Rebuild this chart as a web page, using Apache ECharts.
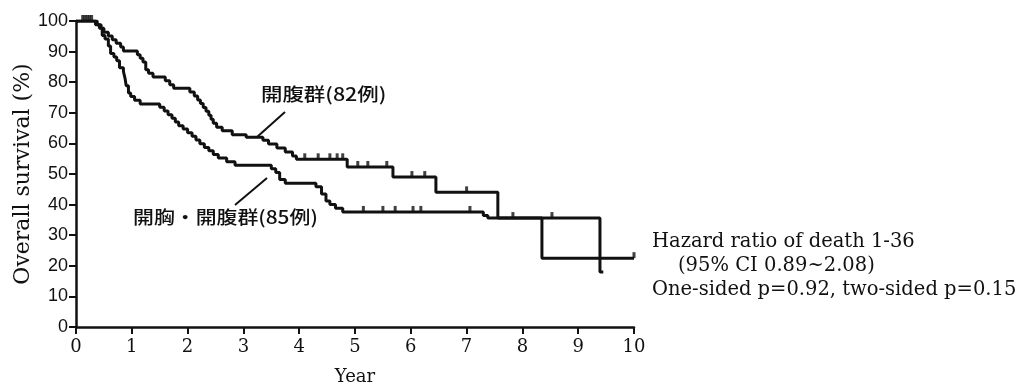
<!DOCTYPE html>
<html>
<head>
<meta charset="utf-8">
<script src="https://cdn.jsdelivr.net/npm/echarts@6/dist/echarts.min.js"></script>
<style>
  html, body { margin: 0; padding: 0; background: #fff; }
  #chart { width: 1026px; height: 388px; }
</style>
</head>
<body>
<div id="chart"></div>
<script>
// Kaplan-Meier survival: step points [year, survival %] where survival drops
const abdominalSteps = [
  [0, 100], [0.38, 98.8], [0.45, 97.6], [0.5, 96.3], [0.58, 95.1], [0.65, 93.9],
  [0.72, 92.7], [0.8, 91.5], [0.85, 90.2], [1.1, 89], [1.15, 87.8], [1.2, 86.6],
  [1.25, 84.1], [1.3, 82.9], [1.38, 81.7], [1.6, 80.5], [1.68, 79.2], [1.75, 78],
  [2.04, 76.8], [2.12, 75.5], [2.18, 74.2], [2.23, 73], [2.28, 71.7], [2.33, 70.5],
  [2.38, 69.2], [2.42, 67.9], [2.46, 66.6], [2.52, 65.3], [2.62, 64.1], [2.8, 62.8],
  [3.05, 62], [3.35, 61], [3.45, 59.8], [3.6, 58.5], [3.75, 57.2], [3.88, 55.9],
  [3.95, 54.8], [4.86, 52.3], [5.68, 49], [6.45, 44], [7.56, 35.6], [9.39, 18],
  [9.45, 18]
];
const thoracoabdominalSteps = [
  [0, 100], [0.35, 98.8], [0.42, 97.6], [0.47, 95.3], [0.52, 94.1], [0.58, 91.8],
  [0.62, 89.4], [0.68, 88.2], [0.73, 87], [0.78, 84.7], [0.85, 83.5], [0.88, 81.2],
  [0.9, 78.8], [0.94, 76.5], [0.98, 75.3], [1.05, 74.1], [1.15, 72.9], [1.5, 71.8],
  [1.58, 70.6], [1.65, 69.4], [1.72, 68.2], [1.78, 67], [1.84, 65.8], [1.92, 64.7],
  [2.0, 63.5], [2.08, 62.3], [2.15, 61.1], [2.22, 59.9], [2.3, 58.7], [2.38, 57.6],
  [2.46, 56.4], [2.55, 55.2], [2.7, 54], [2.85, 52.9], [3.5, 51.7], [3.58, 50.5],
  [3.65, 48.2], [3.75, 47], [4.3, 45.8], [4.4, 43.5], [4.48, 41.2], [4.55, 40],
  [4.65, 38.8], [4.78, 37.6], [7.3, 36.4], [7.38, 35.6], [8.35, 22.5], [10, 22.5]
];
// censored observations [year, survival %]
const abdominalCensored = [
  [0.12, 100], [0.2, 100], [0.28, 100],
  [4.1, 54.8], [4.34, 54.8], [4.55, 54.8], [4.68, 54.8], [4.78, 54.8],
  [5.05, 52.3], [5.23, 52.3], [5.57, 52.3],
  [6.02, 49], [6.25, 49], [7.0, 44], [8.53, 35.6]
];
const thoracoabdominalCensored = [
  [0.16, 100], [0.24, 100],
  [5.15, 37.6], [5.5, 37.6], [5.72, 37.6], [6.04, 37.6], [6.18, 37.6], [7.06, 37.6],
  [7.83, 35.6], [10, 22.5]
];
const groupLabels = ['開腹群(82例)', '開胸・開腹群(85例)'];
const statLines = [
  'Hazard ratio of death 1-36',
  '(95% CI 0.89~2.08)',
  'One-sided p=0.92, two-sided p=0.15'
];

const serif = '"DejaVu Serif", "Liberation Serif", serif';
const sans = '"Liberation Sans", Arial, sans-serif';
const cjk = '"Noto Sans CJK JP", "Noto Sans CJK SC", sans-serif';
const ink = '#111';

const chart = echarts.init(document.getElementById('chart'), null, { renderer: 'canvas' });

function censorSeries(data) {
  return {
    type: 'scatter',
    data: data,
    symbol: 'rect',
    symbolSize: [3, 6],
    symbolOffset: [0, -3],
    itemStyle: { color: ink },
    silent: true,
    z: 4
  };
}
function stepSeries(data) {
  return {
    type: 'line',
    step: 'end',
    data: data,
    showSymbol: false,
    lineStyle: { color: ink, width: 3 },
    silent: true,
    z: 3
  };
}

chart.setOption({
  animation: false,
  backgroundColor: '#fff',
  grid: { left: 76, right: 392, top: 21, bottom: 61, outerBoundsMode: 'none', containLabel: false },
  xAxis: {
    type: 'value', min: 0, max: 10, interval: 1,
    name: 'Year', nameLocation: 'middle', nameGap: 41, nameMoveOverlap: false,
    nameTextStyle: { fontFamily: serif, fontSize: 18, color: ink },
    axisLine: { lineStyle: { color: ink, width: 2.5 } },
    axisTick: { length: 7, lineStyle: { color: ink, width: 2 } },
    axisLabel: { fontFamily: serif, fontSize: 18, color: ink, margin: 11 },
    splitLine: { show: false }
  },
  yAxis: {
    type: 'value', min: 0, max: 100, interval: 10,
    name: 'Overall survival (%)', nameLocation: 'middle', nameGap: 42, nameMoveOverlap: false,
    nameTextStyle: { fontFamily: serif, fontSize: 22, color: ink },
    axisLine: { lineStyle: { color: ink, width: 2.5 } },
    axisTick: { length: 7, lineStyle: { color: ink, width: 2 } },
    axisLabel: { fontFamily: sans, fontSize: 18, color: ink, margin: 8 },
    splitLine: { show: false }
  },
  series: [
    stepSeries(abdominalSteps),
    stepSeries(thoracoabdominalSteps),
    censorSeries(abdominalCensored),
    censorSeries(thoracoabdominalCensored)
  ],
  graphic: [
    { type: 'text', x: 261, y: 85, style: { text: groupLabels[0], font: '500 18px ' + cjk, fill: ink }, scaleX: 1.19 },
    { type: 'line', shape: { x1: 285, y1: 112, x2: 257, y2: 137 }, style: { stroke: ink, lineWidth: 2 } },
    { type: 'text', x: 133, y: 208, style: { text: groupLabels[1], font: '500 18px ' + cjk, fill: ink }, scaleX: 1.16 },
    { type: 'line', shape: { x1: 267, y1: 178, x2: 235, y2: 205 }, style: { stroke: ink, lineWidth: 2 } },
    { type: 'text', x: 652, y: 232, style: { text: statLines[0], font: '19.5px ' + serif, fill: ink } },
    { type: 'text', x: 678, y: 256, style: { text: statLines[1], font: '19.5px ' + serif, fill: ink } },
    { type: 'text', x: 652, y: 280, style: { text: statLines[2], font: '19.5px ' + serif, fill: ink } }
  ]
});
</script>
</body>
</html>
